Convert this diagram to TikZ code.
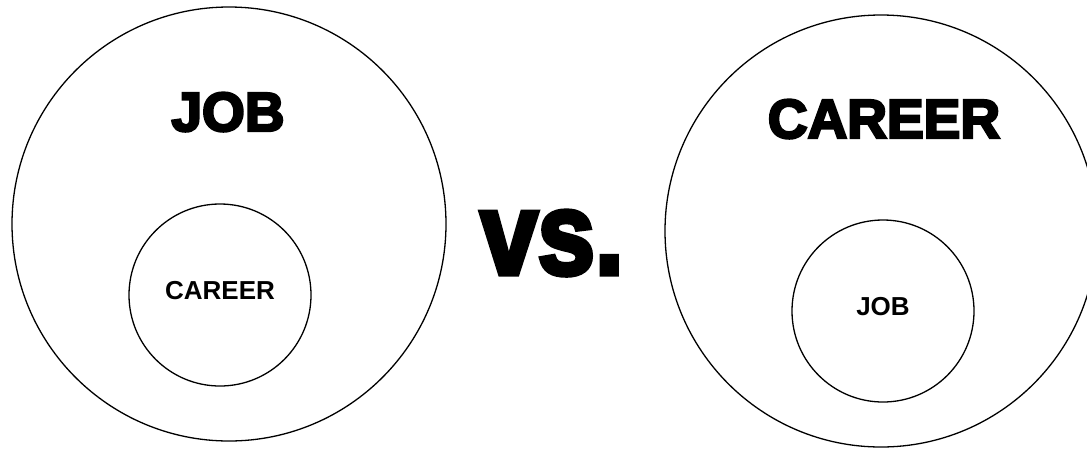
\documentclass[tikz,border=0pt]{standalone}
\usepackage{fontspec}
\setmainfont{Liberation Sans}
\newfontfamily\heavy{Liberation Sans Bold}[FakeBold=4.5]
\newfontfamily\boldsans{Liberation Sans Bold}
\begin{document}
\begin{tikzpicture}[x=1pt,y=-1pt,
  ring/.style={circle,draw=black,line width=1.3pt,inner sep=0pt,minimum size=#1},
  bigtext/.style={anchor=base,inner sep=0pt,font=\heavy\fontsize{55}{60}\selectfont},
  smalltext/.style={anchor=base,inner sep=0pt,font=\boldsans\fontsize{26}{30}\selectfont}]
\useasboundingbox (0,0) rectangle (1087,448);
\clip (0,0) rectangle (1087,448);
\fill[white] (0,0) rectangle (1087,448);
% left
\node[ring=434pt] (jobOuter) at (229,224) {};
\node[ring=182pt] (careerInner) at (220,295) {};
\node[bigtext] (jobLabel) at (228,131) {JOB};
\node[smalltext] (careerSmall) at (220,299) {CAREER};
% middle
\node[anchor=base,inner sep=0pt,font=\heavy\fontsize{117}{120}\selectfont,xscale=0.88] (vs) at (552,274) {vs.};
% right
\node[ring=432pt] (careerOuter) at (881,231) {};
\node[ring=182pt] (jobInner) at (883,311) {};
\node[bigtext] (careerLabel) at (884,138) {CAREER};
\node[smalltext] (jobSmall) at (883,315) {JOB};
\end{tikzpicture}
\end{document}
